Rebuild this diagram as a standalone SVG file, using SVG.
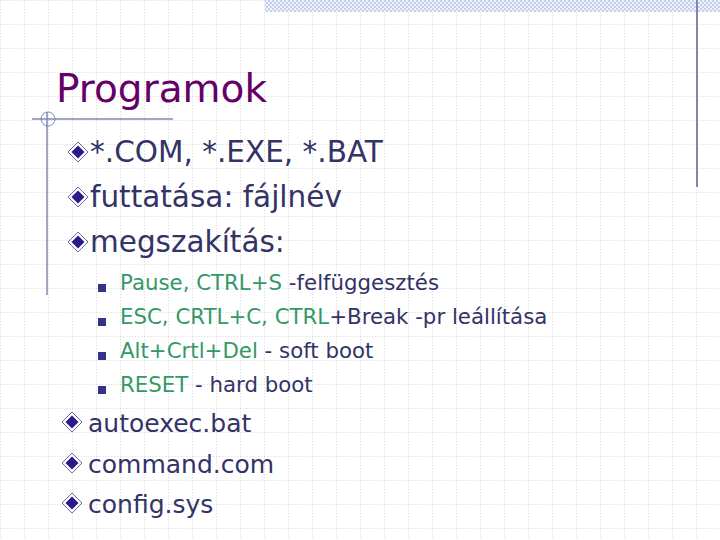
<svg xmlns="http://www.w3.org/2000/svg" width="720" height="540" viewBox="0 0 720 540">
<defs>
<pattern id="grid" width="24" height="24" patternUnits="userSpaceOnUse"><path d="M0 0H24M0 0V24" stroke="#c8c8d0" stroke-width="1" stroke-dasharray="1.5 1.5" fill="none"/></pattern>
<pattern id="chk" width="4" height="4" patternUnits="userSpaceOnUse"><rect width="4" height="4" fill="#eef2fa"/><rect width="2" height="2" fill="#c4d0ea"/><rect x="2" y="2" width="2" height="2" fill="#c4d0ea"/></pattern>
<g id="dia"><path d="M0 -10L10 0L0 10L-10 0Z" fill="#fff" stroke="#6a6aa0" stroke-width="1"/><path d="M0 -6.5L6.5 0L0 6.5L-6.5 0Z" fill="#2a1a8a"/></g>
</defs>
<style>
text{font-family:"DejaVu Sans",Verdana,sans-serif}
.t1{font-size:29.5px;fill:#333366}
.t3{font-size:25px;fill:#333366}
.t2{font-size:21.3px;fill:#333366}
.g{fill:#339966}
.sq{fill:#333388}
</style>
<rect width="720" height="540" fill="#fff"/>
<rect width="720" height="540" fill="url(#grid)"/>
<rect x="265" y="0" width="455" height="12" fill="url(#chk)"/>
<line x1="697" y1="0" x2="697" y2="187" stroke="#8088a8" stroke-width="2"/>
<line x1="32" y1="119" x2="173" y2="119" stroke="#8088b0" stroke-width="1.5"/>
<line x1="47" y1="112" x2="47" y2="295" stroke="#8088b0" stroke-width="1.5"/>
<circle cx="48" cy="119" r="7" fill="none" stroke="#8088b0" stroke-width="1"/>
<text x="56" y="102" style="font-size:39px;fill:#660066">Programok</text>
<use href="#dia" x="78" y="152"/><text class="t1" x="90" y="162">*.COM, *.EXE, *.BAT</text>
<use href="#dia" x="78" y="197"/><text class="t1" x="90" y="207">futtatása: fájlnév</text>
<use href="#dia" x="78" y="242"/><text class="t1" x="90" y="252">megszakítás:</text>
<rect class="sq" x="98" y="284" width="8" height="8"/><text class="t2" x="120" y="290"><tspan class="g">Pause, CTRL+S</tspan> -felfüggesztés</text>
<rect class="sq" x="98" y="318" width="8" height="8"/><text class="t2" x="120" y="324"><tspan class="g">ESC, CRTL+C, CTRL</tspan>+Break -pr leállítása</text>
<rect class="sq" x="98" y="352" width="8" height="8"/><text class="t2" x="120" y="358"><tspan class="g">Alt+Crtl+Del</tspan> - soft boot</text>
<rect class="sq" x="98" y="386" width="8" height="8"/><text class="t2" x="120" y="392"><tspan class="g">RESET</tspan> - hard boot</text>
<use href="#dia" x="72" y="422"/><text class="t3" x="88" y="432">autoexec.bat</text>
<use href="#dia" x="72" y="463"/><text class="t3" x="88" y="473">command.com</text>
<use href="#dia" x="72" y="503"/><text class="t3" x="88" y="513">config.sys</text>
</svg>
